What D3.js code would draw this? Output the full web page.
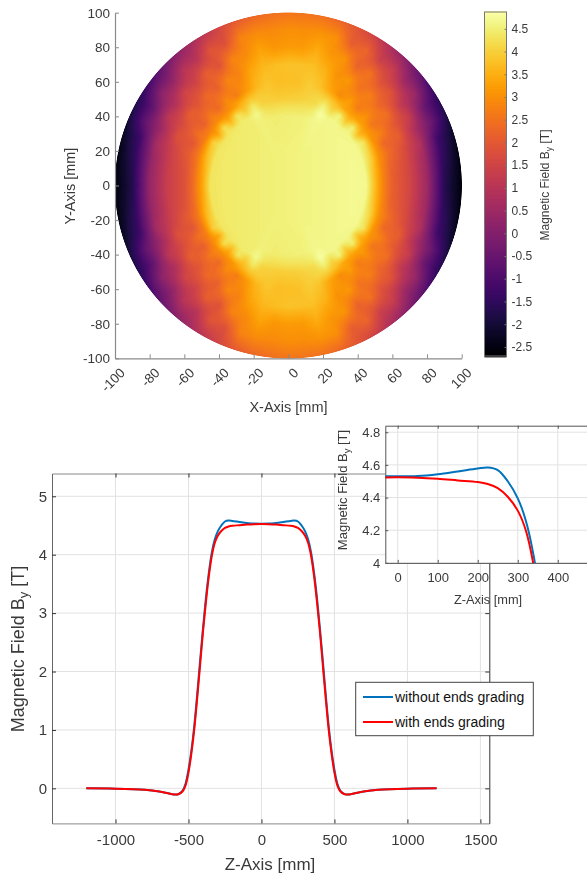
<!DOCTYPE html>
<html>
<head>
<meta charset="utf-8">
<script src="https://cdn.jsdelivr.net/npm/d3@7"></script>
<style>
  html, body { margin: 0; padding: 0; background: #fff; overflow: hidden; }
  #wrap { position: relative; width: 587px; height: 877px; overflow: hidden; }
  canvas, svg { position: absolute; left: 0; top: 0; }
  text { font-family: "Liberation Sans", Arial, sans-serif; fill: #3a3a3a; }
</style>
</head>
<body>
<div id="wrap"></div>
<script>
// field map: one quadrant, angle from the x axis in degrees
const fieldRadii = [0, 20, 40, 45, 50, 55, 60, 70, 80, 90, 100];
const fieldAngles = [0, 6, 12, 18, 24, 30, 36, 42, 48, 54, 60, 66, 72, 78, 84, 90];
const fieldValues = [
  [4.55, 4.55, 4.55, 4.50, 3.50, 2.55, 2.00, 1.45, 0.45, -1.70, -2.55],
  [4.55, 4.55, 4.55, 4.50, 3.50, 2.60, 2.00, 1.45, 0.45, -1.60, -2.50],
  [4.55, 4.55, 4.55, 4.48, 3.60, 2.65, 2.10, 1.50, 0.50, -1.40, -2.40],
  [4.55, 4.55, 4.55, 4.50, 3.80, 2.80, 2.30, 1.60, 0.75, -1.20, -2.20],
  [4.55, 4.55, 4.55, 4.52, 3.95, 2.85, 2.15, 1.95, 0.65, -0.45, -1.90],
  [4.55, 4.55, 4.55, 4.52, 4.15, 2.90, 2.65, 1.85, 1.20, -0.50, -1.60],
  [4.55, 4.55, 4.55, 4.50, 3.50, 3.00, 2.35, 2.30, 1.05, 0.35, -1.10],
  [4.55, 4.55, 4.55, 4.50, 4.35, 3.10, 2.85, 2.10, 1.70, 0.40, -0.50],
  [4.55, 4.55, 4.55, 4.50, 3.70, 3.10, 2.50, 2.55, 1.65, 1.20, 0.10],
  [4.55, 4.55, 4.55, 4.55, 4.45, 3.20, 3.10, 2.30, 2.35, 1.20, 0.70],
  [4.55, 4.55, 4.55, 4.55, 4.00, 3.60, 2.80, 3.00, 2.00, 2.10, 1.25],
  [4.55, 4.55, 4.60, 4.75, 4.50, 3.90, 3.25, 2.90, 2.95, 1.95, 1.75],
  [4.55, 4.55, 4.55, 4.40, 4.10, 4.00, 3.70, 3.45, 3.00, 2.90, 2.15],
  [4.55, 4.55, 4.50, 4.30, 4.05, 3.95, 3.90, 3.70, 3.40, 3.00, 2.40],
  [4.55, 4.55, 4.50, 4.30, 4.00, 3.85, 3.75, 3.75, 3.15, 2.95, 2.50],
  [4.55, 4.55, 4.50, 4.30, 4.00, 3.85, 3.75, 3.80, 3.20, 3.00, 2.55]
];
// small left-right drift of the plateau
const driftX = [-100, -50, 0, 50, 100];
const driftValues = [0, -0.2, 0, 0.2, 0];

const mapTicks = [-100, -80, -60, -40, -20, 0, 20, 40, 60, 80, 100];
const barTicks = [-2.5, -2, -1.5, -1, -0.5, 0, 0.5, 1, 1.5, 2, 2.5, 3, 3.5, 4, 4.5];
const barDomain = [-2.7, 4.87];

// profile along z
const zValues = [-1200, -1000, -800, -700, -640, -600, -570, -540, -520, -500, -480, -460, -440, -420, -400, -380, -360, -340, -320, -300, -275, -250, -225, -200, -150, -100, -50, 0, 50, 100, 150, 200, 225, 250, 275, 300, 320, 340, 360, 380, 400, 420, 440, 460, 480, 500, 520, 540, 570, 600, 640, 700, 800, 1000, 1200];
const withoutGrading = [0, -0.005, -0.025, -0.055, -0.085, -0.105, -0.1, -0.04, 0.08, 0.32, 0.65, 1.08, 1.62, 2.2, 2.75, 3.27, 3.7, 4.04, 4.26, 4.395, 4.5, 4.568, 4.584, 4.578, 4.56, 4.543, 4.532, 4.53, 4.532, 4.543, 4.56, 4.578, 4.584, 4.568, 4.5, 4.395, 4.26, 4.04, 3.7, 3.27, 2.75, 2.2, 1.62, 1.08, 0.65, 0.32, 0.08, -0.04, -0.1, -0.105, -0.085, -0.055, -0.025, -0.005, 0];
const withGrading = [0, -0.005, -0.025, -0.055, -0.085, -0.105, -0.1, -0.05, 0.05, 0.27, 0.6, 1.02, 1.55, 2.12, 2.7, 3.2, 3.64, 3.98, 4.2, 4.32, 4.405, 4.458, 4.483, 4.495, 4.505, 4.515, 4.522, 4.525, 4.522, 4.515, 4.505, 4.495, 4.483, 4.458, 4.405, 4.32, 4.2, 3.98, 3.64, 3.2, 2.7, 2.12, 1.55, 1.02, 0.6, 0.27, 0.05, -0.05, -0.1, -0.105, -0.085, -0.055, -0.025, -0.005, 0];

const mainXTicks = [-1000, -500, 0, 500, 1000, 1500];
const mainYTicks = [0, 1, 2, 3, 4, 5];
const insetXTicks = [0, 100, 200, 300, 400];
const insetYTicks = [4, 4.2, 4.4, 4.6, 4.8];

const legendItems = [
  { label: "without ends grading", color: "#0072BD" },
  { label: "with ends grading", color: "#FF0000" }
];

const wrap = d3.select("#wrap");
const canvas = wrap.append("canvas").attr("width", 587).attr("height", 400)
  .style("filter", "blur(0.5px)");
const svg = wrap.append("svg").attr("width", 587).attr("height", 877);

const color = d3.scaleSequential(d3.interpolateInferno).domain(barDomain);

// ---- field map ----
const mapX = d3.scaleLinear().domain([-100, 100]).range([115, 461.7]);
const mapY = d3.scaleLinear().domain([-100, 100]).range([358.3, 12.7]);

function fieldAt(xv, yv) {
  const r = Math.hypot(xv, yv);
  const a = Math.atan2(Math.abs(yv), Math.abs(xv)) * 180 / Math.PI;
  let ri = d3.bisectRight(fieldRadii, r) - 1;
  ri = Math.max(0, Math.min(fieldRadii.length - 2, ri));
  let ai = d3.bisectRight(fieldAngles, a) - 1;
  ai = Math.max(0, Math.min(fieldAngles.length - 2, ai));
  const tr = (r - fieldRadii[ri]) / (fieldRadii[ri + 1] - fieldRadii[ri]);
  const ta = (a - fieldAngles[ai]) / (fieldAngles[ai + 1] - fieldAngles[ai]);
  const v0 = fieldValues[ai][ri] + (fieldValues[ai][ri + 1] - fieldValues[ai][ri]) * tr;
  const v1 = fieldValues[ai + 1][ri] + (fieldValues[ai + 1][ri + 1] - fieldValues[ai + 1][ri]) * tr;
  return v0 + (v1 - v0) * ta;
}
const drift = d3.scaleLinear().domain(driftX).range(driftValues);

const ctx = canvas.node().getContext("2d");
const img = ctx.createImageData(587, 400);
for (let py = 0; py < 400; py++) {
  for (let px = 0; px < 587; px++) {
    const xv = mapX.invert(px + 0.5);
    const yv = mapY.invert(py + 0.5);
    const r = Math.hypot(xv, yv);
    if (r > 100.3) continue;
    const c = d3.rgb(color(fieldAt(xv, yv) + drift(xv)));
    const i = (py * 587 + px) * 4;
    img.data[i] = c.r;
    img.data[i + 1] = c.g;
    img.data[i + 2] = c.b;
    img.data[i + 3] = r > 99.9 ? 255 * (100.3 - r) / 0.4 : 255;
  }
}
ctx.putImageData(img, 0, 0);

const mapG = svg.append("g").style("filter", "blur(0.35px)");
const mapXAxis = mapG.append("g").attr("transform", "translate(0,358.3)")
  .call(d3.axisBottom(mapX).tickValues(mapTicks).tickFormat(d => d).tickSize(-4).tickSizeOuter(0).tickPadding(10));
mapXAxis.selectAll("text")
  .attr("x", 0).attr("y", 0).attr("dy", "0.35em")
  .attr("transform", "translate(7,12) rotate(-45)")
  .attr("text-anchor", "end")
  .style("font-size", "13.5px");
const mapYAxis = mapG.append("g").attr("transform", "translate(115,0)")
  .call(d3.axisLeft(mapY).tickValues(mapTicks).tickFormat(d => d).tickSize(-4).tickSizeOuter(0).tickPadding(5));
mapYAxis.selectAll("text").style("font-size", "13.5px");
mapG.selectAll(".domain").attr("stroke", "#8a8a8a").attr("stroke-width", 1.2);
mapG.selectAll(".tick line").attr("stroke", "#8a8a8a");

mapG.append("text").attr("x", 288.5).attr("y", 412).attr("text-anchor", "middle")
  .style("font-size", "14.5px").text("X-Axis [mm]");
mapG.append("text").attr("transform", "translate(75,186) rotate(-90)").attr("text-anchor", "middle")
  .style("font-size", "14.5px").text("Y-Axis [mm]");

// colorbar
const barY = d3.scaleLinear().domain(barDomain).range([356, 12]);
const barSteps = d3.range(256).map(i => barDomain[0] + (barDomain[1] - barDomain[0]) * i / 255);
const barG = svg.append("g").style("filter", "blur(0.35px)");
barG.selectAll("rect.step").data(barSteps).join("rect").attr("class", "step")
  .attr("x", 484.5).attr("width", 22)
  .attr("y", d => barY(d) - 1)
  .attr("height", 2.4)
  .attr("fill", d => color(d));
barG.append("rect").attr("x", 484.5).attr("y", 12).attr("width", 22).attr("height", 344)
  .attr("fill", "none").attr("stroke", "#777");
const barAxis = barG.append("g").attr("transform", "translate(506.5,0)")
  .call(d3.axisRight(barY).tickValues(barTicks).tickFormat(d => d).tickSize(-2).tickSizeOuter(0).tickPadding(5));
barAxis.select(".domain").remove();
barAxis.selectAll("line").attr("stroke", "#777");
barAxis.selectAll("text").style("font-size", "12px");

function addByLabel(g, fontSize) {
  const t = g.append("text").attr("text-anchor", "middle").style("font-size", fontSize + "px");
  t.append("tspan").text("Magnetic Field B");
  t.append("tspan").attr("dy", "0.3em").style("font-size", "0.72em").text("y");
  t.append("tspan").attr("dy", "-0.22em").text(" [T]");
  return t;
}
addByLabel(barG.append("g").attr("transform", "translate(549,185) rotate(-90)"), 12);

// ---- main profile ----
const mainX = d3.scaleLinear().domain([-1435, 1561]).range([52, 489.3]);
const mainY = d3.scaleLinear().domain([-0.6, 5.39]).range([823.4, 473.5]);
const mainG = svg.append("g");

mainG.append("g").selectAll("line").data(mainXTicks).join("line")
  .attr("x1", d => mainX(d)).attr("x2", d => mainX(d))
  .attr("y1", 473.5).attr("y2", 823.4).attr("stroke", "#e2e2e2");
mainG.append("g").selectAll("line").data(mainYTicks).join("line")
  .attr("y1", d => mainY(d)).attr("y2", d => mainY(d))
  .attr("x1", 52).attr("x2", 489.3).attr("stroke", "#e2e2e2");

const mainBottom = mainG.append("g").attr("transform", "translate(0,823.4)")
  .call(d3.axisBottom(mainX).tickValues(mainXTicks).tickFormat(d => d).tickSize(-4).tickSizeOuter(0).tickPadding(11));
const mainTop = mainG.append("g").attr("transform", "translate(0,473.5)")
  .call(d3.axisTop(mainX).tickValues(mainXTicks).tickFormat("").tickSize(-4).tickSizeOuter(0));
const mainLeft = mainG.append("g").attr("transform", "translate(52,0)")
  .call(d3.axisLeft(mainY).tickValues(mainYTicks).tickFormat(d => d).tickSize(-4).tickSizeOuter(0).tickPadding(5));
const mainRight = mainG.append("g").attr("transform", "translate(489.3,0)")
  .call(d3.axisRight(mainY).tickValues(mainYTicks).tickFormat("").tickSize(-4).tickSizeOuter(0));
[mainBottom, mainTop, mainLeft, mainRight].forEach(a => {
  a.selectAll(".domain,.tick line").attr("stroke", "#333");
  a.selectAll("text").style("font-size", "15px");
});
mainBottom.select(".domain").attr("stroke", "#888");
mainTop.select(".domain").attr("stroke", "#888");
mainLeft.select(".domain").attr("stroke", "#666");

function drawCurves(g, x, y) {
  const line = d3.line().x((d, i) => x(zValues[i])).y(d => y(d)).curve(d3.curveCatmullRom.alpha(0.5));
  g.append("path").datum(withoutGrading).attr("d", line).attr("fill", "none")
    .attr("stroke", legendItems[0].color).attr("stroke-width", 2);
  g.append("path").datum(withGrading).attr("d", line).attr("fill", "none")
    .attr("stroke", legendItems[1].color).attr("stroke-width", 2);
}
drawCurves(mainG, mainX, mainY);

mainG.append("text").attr("x", 270).attr("y", 870).attr("text-anchor", "middle")
  .style("font-size", "17px").text("Z-Axis [mm]");
addByLabel(mainG.append("g").attr("transform", "translate(24,649) rotate(-90)"), 18);

// legend
const legG = svg.append("g");
legG.append("rect").attr("x", 355.7).attr("y", 682.3).attr("width", 177.6).attr("height", 53.4)
  .attr("fill", "#fff").attr("stroke", "#444").attr("stroke-width", 1);
const legRow = d3.scalePoint().domain(legendItems.map(d => d.label)).range([697, 722]);
legendItems.forEach(d => {
  legG.append("line").attr("x1", 363).attr("x2", 393).attr("y1", legRow(d.label)).attr("y2", legRow(d.label))
    .attr("stroke", d.color).attr("stroke-width", 2);
  legG.append("text").attr("x", 395).attr("y", legRow(d.label) + 5).style("font-size", "14px")
    .style("fill", "#111").text(d.label);
});

// ---- inset ----
const insetX = d3.scaleLinear().domain([-31, 473]).range([385.3, 587]);
const insetY = d3.scaleLinear().domain([4, 4.84]).range([562.9, 425.7]);
const insetG = svg.append("g");
insetG.append("rect").attr("x", 385.3).attr("y", 425.7).attr("width", 202).attr("height", 137.2).attr("fill", "#fff");
svg.append("clipPath").attr("id", "inset-clip").append("rect")
  .attr("x", 385.3).attr("y", 425.7).attr("width", 202).attr("height", 137.2);

insetG.append("g").selectAll("line").data(insetXTicks).join("line")
  .attr("x1", d => insetX(d)).attr("x2", d => insetX(d))
  .attr("y1", 425.7).attr("y2", 562.9).attr("stroke", "#e2e2e2");
insetG.append("g").selectAll("line").data(insetYTicks).join("line")
  .attr("y1", d => insetY(d)).attr("y2", d => insetY(d))
  .attr("x1", 385.3).attr("x2", 587).attr("stroke", "#e2e2e2");

const insetBottom = insetG.append("g").attr("transform", "translate(0,562.9)")
  .call(d3.axisBottom(insetX).tickValues(insetXTicks).tickFormat(d => d).tickSize(-3).tickSizeOuter(0).tickPadding(10));
const insetTop = insetG.append("g").attr("transform", "translate(0,425.7)")
  .call(d3.axisTop(insetX).tickValues(insetXTicks).tickFormat("").tickSize(-3).tickSizeOuter(0));
const insetLeft = insetG.append("g").attr("transform", "translate(385.3,0)")
  .call(d3.axisLeft(insetY).tickValues(insetYTicks).tickFormat(d => d).tickSize(-3).tickSizeOuter(0).tickPadding(5));
[insetBottom, insetTop, insetLeft].forEach(a => {
  a.selectAll(".domain,.tick line").attr("stroke", "#555");
  a.selectAll("text").style("font-size", "13px");
});

drawCurves(insetG.append("g").attr("clip-path", "url(#inset-clip)"), insetX, insetY);

insetG.append("text").attr("x", 488).attr("y", 604).attr("text-anchor", "middle")
  .style("font-size", "12.8px").text("Z-Axis [mm]");
addByLabel(insetG.append("g").attr("transform", "translate(347,490) rotate(-90)"), 13);
</script>
</body>
</html>
